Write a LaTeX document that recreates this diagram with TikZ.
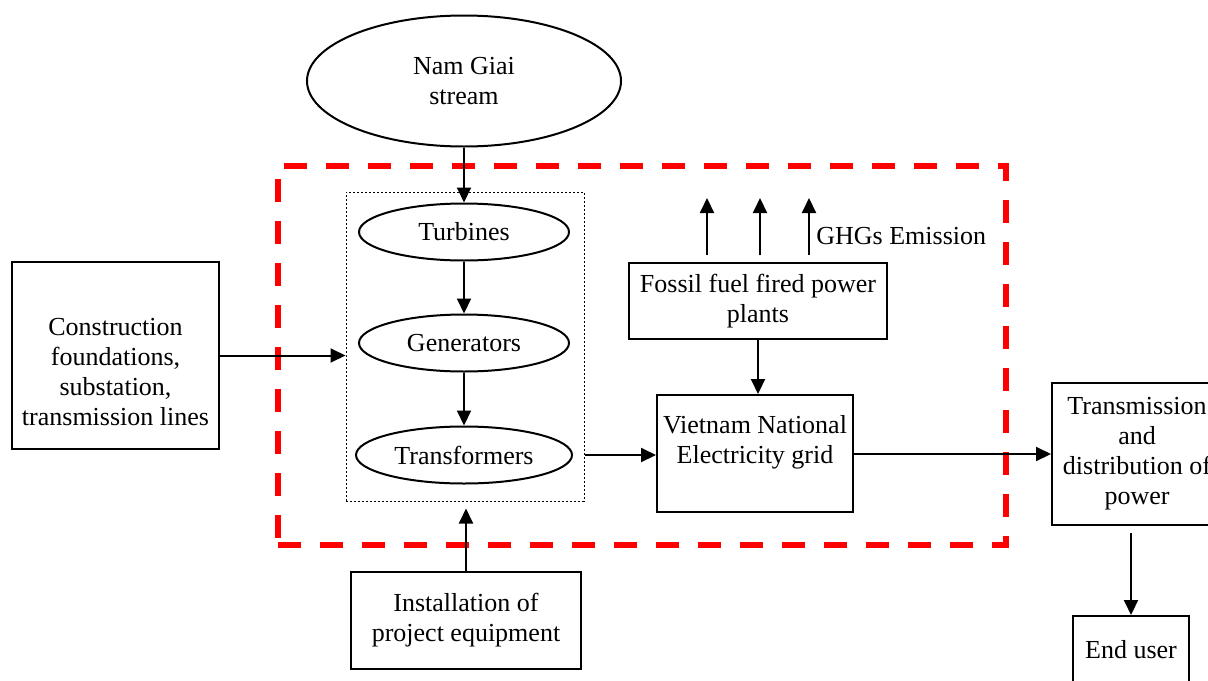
\documentclass[tikz,border=0pt]{standalone}
\usepackage{fontspec}
\setmainfont{Liberation Serif}
\usetikzlibrary{shapes.geometric,arrows.meta}
\begin{document}
\begin{tikzpicture}[x=0.5pt,y=-0.5pt,
  every node/.style={font=\fontsize{13}{15}\selectfont, align=center, inner sep=0pt},
  proc/.style={draw, line width=1pt, rectangle},
  unit/.style={draw, line width=1pt, ellipse},
  flow/.style={line width=1pt, -{Triangle[length=7.5pt,width=7pt]}},
  core/.style={draw, line width=0.5pt, dash pattern=on 1pt off 1pt},
  bound/.style={draw=red, line width=3pt, dash pattern=on 11.5pt off 9.5pt}]
\useasboundingbox (0,0) rectangle (1208,680);
\clip (0,0) rectangle (1208,680);

% project boundary
\node[bound, minimum width=364pt, minimum height=189.5pt] (boundary) at (642,355.5) {};
% power house group
\node[core, minimum width=119pt, minimum height=154.5pt] (house) at (465,346.5) {};

\node[unit, minimum width=157pt, minimum height=65.5pt] (stream) at (464,81) {Nam Giai\\stream};
\node[unit, minimum width=105pt, minimum height=28.5pt] (turb) at (464,232) {Turbines};
\node[unit, minimum width=105pt, minimum height=28.5pt] (gen) at (464,343) {Generators};
\node[unit, minimum width=108pt, minimum height=28.5pt] (trafo) at (464,455) {Transformers};

\node[proc, minimum width=103.5pt, minimum height=93.5pt] (constr) at (115.5,355.5) {};
\node (constrtxt) at (115.5,372) {Construction\\foundations,\\substation,\\transmission lines};
\node[proc, minimum width=115pt, minimum height=48.5pt] (install) at (466,620.5) {Installation of\\project equipment};
\node[proc, minimum width=129pt, minimum height=38pt] (fossil) at (758,301) {Fossil fuel fired power\\plants};
\node[proc, minimum width=98pt, minimum height=58.5pt] (grid) at (755,453.5) {};
\node (gridtxt) at (755,442) {Vietnam National\\Electricity grid};
\node[proc, minimum width=85pt, minimum height=71pt] (tnd) at (1137,454) {Transmission\\and\\distribution of\\power};
\node[proc, minimum width=58pt, minimum height=34pt] (user) at (1131,650) {End user};

\node[anchor=west] (ghg) at (816,236) {GHGs Emission};

% connectors
\draw[flow] (stream) -- (turb);
\draw[flow] (turb) -- (gen);
\draw[flow] (gen) -- (trafo);
\draw[flow] (constr.east) -- (constr.east -| house.west);
\draw[flow, shorten >=3.5pt] (install.north) -- (install.north |- house.south);
\draw[flow] (house.east |- trafo.east) -- (grid.west |- trafo.east);
\draw[flow] (fossil.south) -- (fossil.south |- grid.north);
\draw[flow] (grid.east |- tnd.west) -- (tnd.west);
\draw[flow, shorten <=3.5pt] (tnd.south -| user.north) -- (user.north);

\coordinate (e1) at (707,198);
\coordinate (e2) at (760,198);
\coordinate (e3) at (809,198);
\foreach \e in {e1,e2,e3}
  \draw[flow, shorten <=3.5pt] (fossil.north -| \e) -- (\e);
\end{tikzpicture}
\end{document}
